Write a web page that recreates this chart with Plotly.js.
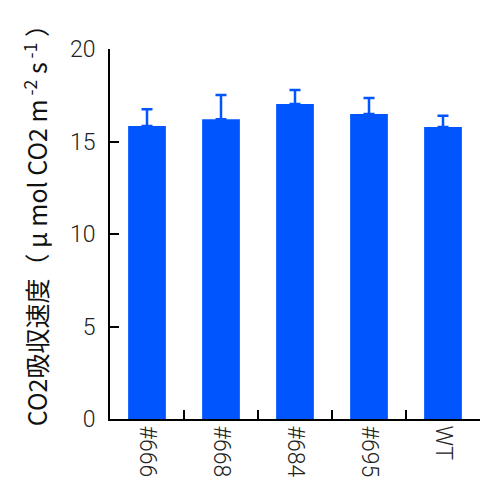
<!DOCTYPE html>
<html>
<head>
<meta charset="utf-8">
<script src="https://cdn.plot.ly/plotly-3.0.1.min.js"></script>
<style>html,body{margin:0;padding:0;background:#fff}#chart{width:481px;height:485px}</style>
</head>
<body>
<div id="chart"></div>
<script>
const categories = ["#666", "#668", "#684", "#695", "WT"];
const values = [15.84, 16.2, 17.03, 16.49, 15.78];
const errorsPlus = [0.9, 1.31, 0.75, 0.86, 0.61];
const errorsMinus = [0, 0, 0, 0, 0];
const yTicks = [0, 5, 10, 15, 20];
const yTitle = "CO2吸収速度（ μ mol CO2 m<sup> -2</sup> s<sup> -1</sup> ）";

const blue = "#0055ff";
const trace = {
  type: "bar",
  x: categories,
  y: values,
  width: 0.51,
  marker: {color: blue, line: {width: 0}},
  error_y: {type: "data", symmetric: false, array: errorsPlus, arrayminus: errorsMinus,
            color: blue, thickness: 2.5, width: 5.5}
};
const tickFont = {family: "Roboto, 'Liberation Sans', sans-serif", size: 23, color: "#222", weight: 300};
const layout = {
  width: 481, height: 485,
  margin: {l: 110, r: 1, t: 49, b: 66},
  paper_bgcolor: "#fff", plot_bgcolor: "#fff",
  showlegend: false,
  xaxis: {
    type: "category", range: [-0.5, 4.5],
    tickson: "boundaries", ticks: "inside", ticklen: 9, tickwidth: 2, tickcolor: "#000",
    showline: true, linecolor: "#000", linewidth: 2,
    tickangle: 90, tickfont: tickFont, showgrid: false, zeroline: false
  },
  yaxis: {
    range: [0, 20], tickvals: yTicks, ticktext: yTicks.map(String),
    ticks: "inside", ticklen: 9, tickwidth: 2, tickcolor: "#000",
    showline: true, linecolor: "#000", linewidth: 2,
    tickfont: tickFont, showgrid: false, zeroline: false, ticklabelstandoff: 8
  },
  annotations: [{
    text: yTitle, textangle: -90, showarrow: false,
    xref: "paper", yref: "paper", x: -0.2, y: 0.54, xanchor: "center", yanchor: "middle",
    font: {family: "'Noto Sans CJK JP', 'Noto Sans', sans-serif", size: 25, color: "#111"}
  }]
};
Plotly.newPlot("chart", [trace], layout, {displayModeBar: false, staticPlot: true});
</script>
</body>
</html>
